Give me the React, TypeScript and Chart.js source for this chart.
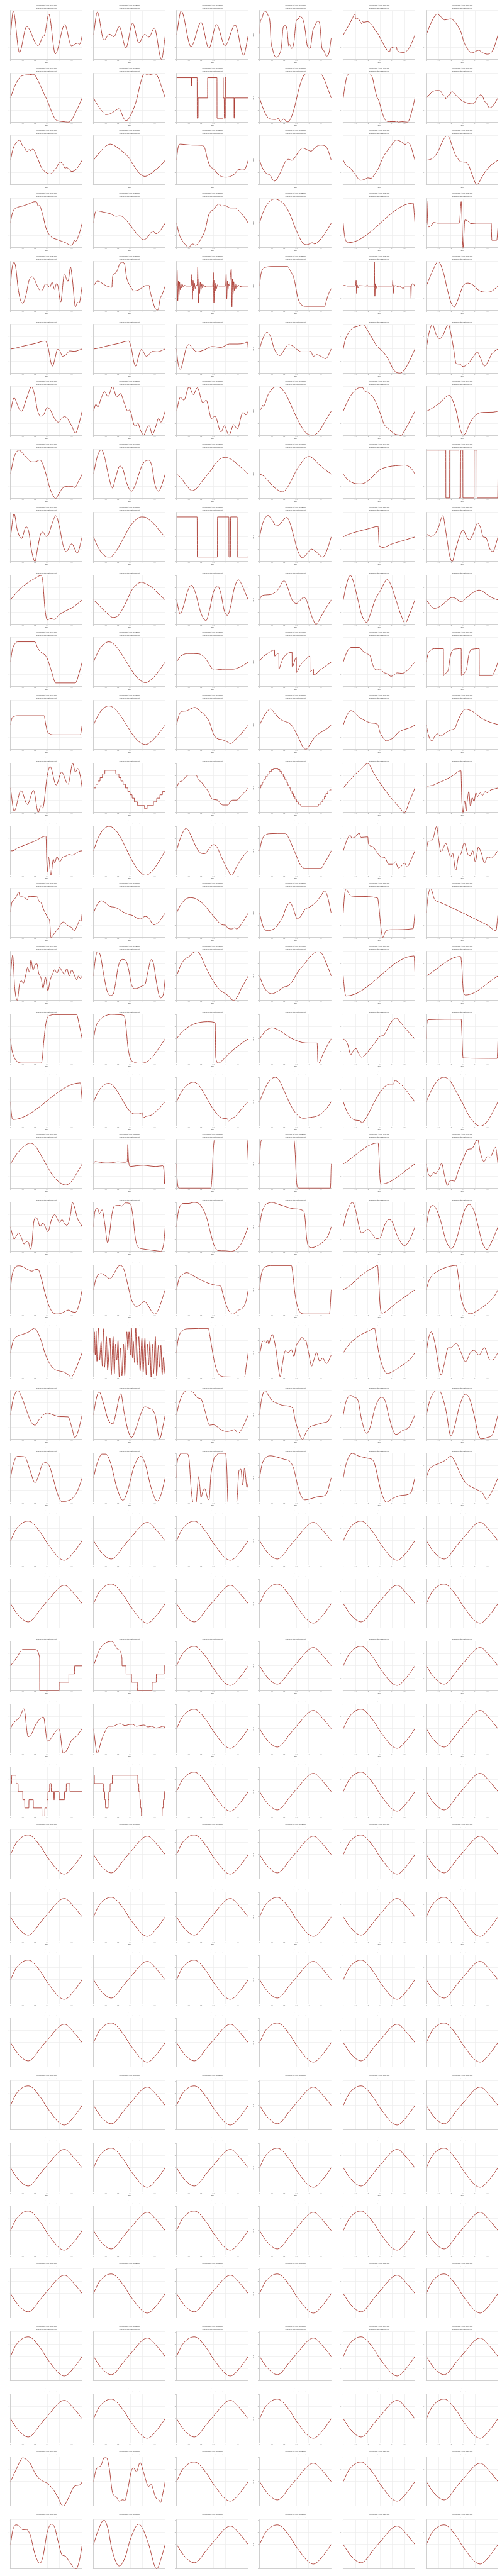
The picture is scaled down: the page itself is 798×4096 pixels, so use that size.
import { useEffect, useRef } from "react";
import { Chart, registerables } from "chart.js";

Chart.register(...registerables);

const TIME_TICKS = [0, 0.1, 0.2, 0.3, 0.4, 0.5];
const VALUE_TICKS = [-1, -0.5, 0, 0.5, 1];
const TIME_MAX = 0.586;
const SOURCE = "Graphs by http://datanoise.net";

// Each wave: flat list of (time, value) pairs.
const W0001 = [0,0, 0.023,0.99, 0.073,-0.71, 0.132,0.35, 0.225,-0.43, 0.265,-0.06, 0.278,0.0, 0.313,0.86, 0.366,-0.77, 0.443,0.43, 0.497,-0.44, 0.548,-0.33, 0.565,-0.37, 0.585,-0.04];
const W0002 = [0,0, 0.031,0.94, 0.085,-0.21, 0.13,0.04, 0.166,-0.07, 0.21,0.35, 0.264,-0.52, 0.319,0.49, 0.37,-0.32, 0.417,0.03, 0.453,-0.08, 0.496,0.29, 0.555,-1.0, 0.585,-0.04];
const W0003 = [0,0, 0.038,0.99, 0.118,-0.47, 0.2,0.52, 0.264,-0.54, 0.326,0.43, 0.396,-0.43, 0.478,0.42, 0.547,-0.82, 0.585,-0.02];
const W0004 = [0,0.06, 0.005,0.5, 0.016,0.65, 0.042,0.99, 0.068,0.82, 0.086,0.45, 0.093,-0.25, 0.105,-0.55, 0.12,-0.82, 0.138,-0.9, 0.165,-0.75, 0.178,-0.5, 0.193,0.32, 0.21,0.39, 0.225,0.2, 0.238,-0.45, 0.247,-0.38, 0.262,-0.55, 0.28,-0.3, 0.3,0.6, 0.31,0.63, 0.331,0.77, 0.362,0.5, 0.372,0.2, 0.39,-0.45, 0.412,-0.54, 0.435,0.2, 0.448,0.35, 0.475,0.57, 0.49,0.48, 0.51,-0.55, 0.522,-0.62, 0.545,-0.86, 0.565,-0.75, 0.585,-0.12];
const W0005 = [0,0, 0.078,0.72, 0.085,0.8, 0.097,0.85, 0.1,0.65, 0.107,0.7, 0.13,0.62, 0.15,0.47, 0.157,0.58, 0.163,0.52, 0.196,0.55, 0.218,0.5, 0.262,0.2, 0.29,0.0, 0.3,-0.1, 0.379,-0.68, 0.385,-0.56, 0.434,-0.48, 0.44,-0.62, 0.49,-0.71, 0.535,-0.55, 0.585,0];
const W0006 = [0,0, 0.03,0.4, 0.09,0.86, 0.118,0.76, 0.149,0.62, 0.2,0.66, 0.223,0.6, 0.26,0.35, 0.285,0.1, 0.305,-0.25, 0.335,-0.55, 0.372,-0.73, 0.427,-0.62, 0.46,-0.72, 0.497,-0.78, 0.545,-0.6, 0.585,0];
const W0007 = [0,0, 0.036,0.5, 0.08,0.86, 0.12,0.94, 0.152,0.95, 0.18,0.97, 0.2,0.93, 0.235,0.6, 0.285,0.05, 0.3,-0.1, 0.335,-0.55, 0.366,-0.87, 0.4,-0.95, 0.434,-0.97, 0.467,-0.99, 0.49,-0.95, 0.54,-0.5, 0.585,0];
const W0008 = [0,0, 0.035,-0.3, 0.08,-0.6, 0.1,-0.68, 0.134,-0.65, 0.178,-0.52, 0.205,-0.44, 0.218,-0.5, 0.245,-0.82, 0.267,-0.93, 0.295,-0.78, 0.35,-0.1, 0.378,0.5, 0.405,0.95, 0.417,0.99, 0.45,0.94, 0.494,0.99, 0.521,0.9, 0.566,0.3, 0.585,0];
const W0009 = [0,0.83, 0.122,0.83, 0.1222,0.5, 0.1225,0.83, 0.168,0.83, 0.1685,-0.83, 0.176,-0.83, 0.1765,0, 0.253,0, 0.2535,0.83, 0.33,0.83, 0.3305,-0.83, 0.379,-0.83, 0.3795,0.83, 0.381,0.83, 0.3815,0, 0.389,0, 0.3895,-0.83, 0.398,-0.83, 0.3985,0.83, 0.403,0.83, 0.4035,0, 0.469,0, 0.4695,-0.83, 0.471,-0.83, 0.4715,0, 0.585,0];
const W0010 = [0,0, 0.031,-0.45, 0.064,-0.78, 0.097,-0.87, 0.13,-0.88, 0.152,-0.84, 0.171,-0.97, 0.196,-0.86, 0.226,-0.98, 0.25,-0.88, 0.284,-0.4, 0.303,0, 0.328,0.5, 0.36,0.92, 0.382,0.99, 0.492,0.99, 0.514,0.9, 0.564,0.28, 0.585,0];
const W0011 = [0,0, 0.014,0.5, 0.036,0.95, 0.058,0.99, 0.207,0.99, 0.235,0.88, 0.257,0.4, 0.274,0.05, 0.29,-0.1, 0.318,-0.6, 0.346,-0.92, 0.379,-0.97, 0.423,-0.97, 0.432,-0.95, 0.45,-0.99, 0.478,-0.97, 0.522,-0.99, 0.533,-0.95, 0.562,-0.5, 0.585,0];
const W0012 = [0,0, 0.052,0.26, 0.09,0.31, 0.112,0.3, 0.14,0.1, 0.151,0.08, 0.163,-0.05, 0.178,0.1, 0.19,0.13, 0.209,0.26, 0.244,0.1, 0.289,-0.1, 0.344,-0.22, 0.378,-0.24, 0.4,-0.15, 0.414,0, 0.424,0.02, 0.442,0.13, 0.461,0.05, 0.477,-0.15, 0.486,-0.17, 0.516,-0.4, 0.538,-0.35, 0.585,0];
const W0013 = [0,0, 0.023,0.5, 0.06,0.78, 0.075,0.82, 0.1,0.58, 0.112,0.53, 0.135,0.35, 0.152,0.44, 0.162,0.39, 0.183,0.46, 0.22,0.1, 0.253,-0.3, 0.29,-0.5, 0.322,-0.56, 0.36,-0.4, 0.375,-0.3, 0.405,-0.07, 0.43,-0.18, 0.445,-0.33, 0.458,-0.3, 0.5,-0.46, 0.54,-0.35, 0.585,0];
const W0014 = [0,0, 0.03,0.2, 0.072,0.45, 0.1,0.58, 0.137,0.66, 0.165,0.62, 0.2,0.5, 0.25,0.3, 0.29,0.1, 0.32,-0.15, 0.36,-0.45, 0.39,-0.6, 0.42,-0.66, 0.45,-0.6, 0.5,-0.42, 0.55,-0.2, 0.585,0];
const W0015 = [0,0, 0.012,0.5, 0.03,0.66, 0.06,0.65, 0.13,0.62, 0.21,0.61, 0.23,0.5, 0.255,0.0, 0.275,-0.25, 0.3,-0.35, 0.335,-0.55, 0.36,-0.65, 0.4,-0.69, 0.44,-0.66, 0.48,-0.53, 0.505,-0.37, 0.53,-0.4, 0.555,-0.38, 0.585,0];
const W0016 = [0,0, 0.022,-0.3, 0.05,-0.52, 0.088,-0.62, 0.105,-0.78, 0.12,-0.85, 0.14,-0.78, 0.17,-0.5, 0.218,0.0, 0.24,0.04, 0.262,0.0, 0.283,0.08, 0.32,0.36, 0.35,0.5, 0.388,0.43, 0.42,0.37, 0.453,0.52, 0.492,0.62, 0.53,0.6, 0.555,0.45, 0.585,0];
const W0017 = [0,0, 0.023,-0.2, 0.063,-0.35, 0.1,-0.6, 0.14,-0.82, 0.175,-0.78, 0.2,-0.72, 0.225,-0.74, 0.26,-0.55, 0.29,-0.3, 0.31,-0.05, 0.34,0.25, 0.38,0.52, 0.433,0.83, 0.48,0.74, 0.505,0.65, 0.525,0.72, 0.545,0.65, 0.585,0];
const W0018 = [0,0, 0.04,0.05, 0.07,0.17, 0.1,0.4, 0.13,0.75, 0.155,0.95, 0.172,1.0, 0.19,0.9, 0.21,0.6, 0.235,0.25, 0.26,0.05, 0.28,-0.06, 0.32,-0.08, 0.345,-0.2, 0.375,-0.6, 0.41,-0.98, 0.43,-0.92, 0.45,-0.72, 0.5,-0.35, 0.54,-0.15, 0.585,0];
const W0019 = [0,0, 0.01,0.3, 0.025,0.52, 0.06,0.65, 0.1,0.7, 0.15,0.79, 0.2,0.88, 0.215,0.86, 0.225,0.7, 0.235,0.72, 0.26,0.4, 0.29,-0.2, 0.33,-0.55, 0.38,-0.67, 0.45,-0.8, 0.49,-0.9, 0.51,-0.85, 0.52,-0.7, 0.53,-0.75, 0.56,-0.45, 0.585,0];
const W0020 = [0,0, 0.015,0.45, 0.03,0.5, 0.08,0.45, 0.14,0.38, 0.185,0.28, 0.21,0.3, 0.235,0.27, 0.27,0.1, 0.31,-0.15, 0.35,-0.42, 0.385,-0.6, 0.41,-0.68, 0.44,-0.58, 0.47,-0.38, 0.485,-0.33, 0.51,-0.43, 0.54,-0.33, 0.585,0];
const W0021 = [0,0, 0.025,-0.5, 0.06,-0.8, 0.1,-0.98, 0.13,-0.85, 0.155,-0.9, 0.21,-0.55, 0.235,-0.25, 0.26,0.3, 0.28,0.48, 0.3,0.55, 0.345,0.78, 0.37,0.7, 0.395,0.72, 0.42,0.66, 0.44,0.62, 0.48,0.62, 0.52,0.45, 0.56,0.2, 0.585,0];
const W0022 = [0,0, 0.025,0.4, 0.075,0.85, 0.127,0.99, 0.16,0.93, 0.195,0.8, 0.24,0.45, 0.3,-0.3, 0.35,-0.8, 0.385,-0.88, 0.41,-0.84, 0.43,-0.8, 0.45,-0.85, 0.49,-0.7, 0.53,-0.45, 0.585,0];
const W0023 = [0,0, 0.01,-0.5, 0.025,-0.75, 0.04,-0.8, 0.57,0.82, 0.585,0];
const W0024 = [0,0, 0.005,0.9, 0.012,0.0, 0.022,-0.15, 0.04,-0.1, 0.06,0.03, 0.09,0.0, 0.27,0.0, 0.285,0.88, 0.3,-1.0, 0.315,0.13, 0.335,0.1, 0.365,-0.02, 0.41,0.0, 0.53,0.0, 0.535,-0.7, 0.575,-0.7, 0.585,-0.15];
const W0025 = [0,0, 0.012,0.7, 0.03,0.97, 0.045,0.7, 0.06,0.0, 0.08,-0.55, 0.1,-0.7, 0.125,-0.4, 0.15,0.2, 0.17,0.38, 0.19,0.32, 0.21,0.1, 0.235,-0.15, 0.248,-0.2, 0.265,-0.13, 0.285,0.08, 0.3,0.06, 0.32,-0.05, 0.34,0.15, 0.36,-0.14, 0.375,0.1, 0.385,0.05, 0.41,-0.65, 0.44,0.5, 0.46,0.25, 0.47,0.2, 0.49,0.78, 0.505,0.3, 0.53,-0.85, 0.548,-0.67, 0.56,-0.7, 0.585,0];
const W0026 = [0,0, 0.032,0.2, 0.06,0.15, 0.1,0.02, 0.15,-0.05, 0.155,0.35, 0.165,0.47, 0.19,0.6, 0.215,0.92, 0.235,0.97, 0.252,0.92, 0.27,0.35, 0.3,0.0, 0.33,-0.2, 0.37,-0.15, 0.4,-0.05, 0.43,0.02, 0.455,0.02, 0.458,-0.1, 0.48,-0.55, 0.5,-0.88, 0.525,-0.98, 0.545,-0.5, 0.56,-0.35, 0.585,0];
const W0027 = [0,0, 0.005,0.65, 0.01,-0.6, 0.015,0.2, 0.02,-0.38, 0.025,0.15, 0.03,-0.15, 0.036,0.1, 0.042,-0.08, 0.048,0.06, 0.055,-0.04, 0.065,0.03, 0.08,0, 0.12,0, 0.125,0.47, 0.13,-0.55, 0.135,0.22, 0.14,-0.2, 0.146,0.12, 0.152,-0.1, 0.16,0.05, 0.168,0, 0.173,0.77, 0.178,-0.7, 0.183,0.3, 0.188,-0.3, 0.194,0.15, 0.2,-0.15, 0.206,0.1, 0.212,-0.08, 0.22,0.05, 0.23,-0.03, 0.245,0, 0.295,0, 0.3,0.55, 0.305,-0.68, 0.31,0.25, 0.315,-0.2, 0.32,0.12, 0.326,-0.1, 0.333,0.05, 0.345,0, 0.4,0, 0.405,0.5, 0.41,-0.52, 0.415,0.2, 0.42,-0.15, 0.425,0.08, 0.43,0, 0.447,0.7, 0.452,-0.85, 0.457,0.3, 0.462,-0.3, 0.467,0.18, 0.472,-0.18, 0.478,0.1, 0.484,-0.1, 0.49,0.06, 0.497,-0.05, 0.505,0.03, 0.52,-0.02, 0.54,0, 0.585,0];
const W0028 = [0,0, 0.01,0.45, 0.028,0.7, 0.06,0.78, 0.1,0.8, 0.23,0.8, 0.245,0.68, 0.26,0.55, 0.275,0.4, 0.29,0.1, 0.31,-0.45, 0.33,-0.7, 0.35,-0.8, 0.38,-0.83, 0.53,-0.83, 0.545,-0.6, 0.565,-0.3, 0.585,-0.1];
const W0029 = [0,0.02, 0.01,0.03, 0.03,0.0, 0.1,0.0, 0.105,0.22, 0.109,-0.3, 0.114,0.05, 0.12,-0.08, 0.13,0.02, 0.19,0.0, 0.195,0.05, 0.2,0.0, 0.25,0.0, 0.254,1.0, 0.258,-0.42, 0.262,0.1, 0.268,-0.1, 0.275,0.02, 0.285,0.0, 0.4,0.0, 0.404,0.22, 0.408,-0.3, 0.413,0.05, 0.42,0.0, 0.43,0.03, 0.44,-0.02, 0.46,0.0, 0.49,-0.1, 0.5,0.0, 0.55,0.0, 0.553,-0.5, 0.556,0.0, 0.57,0.1, 0.585,-0.03];
const W0030 = [0,0, 0.05,0.6, 0.097,1.0, 0.14,0.55, 0.17,-0.1, 0.2,-0.65, 0.228,-0.85, 0.255,-0.6, 0.3,0.0, 0.34,0.12, 0.38,0.05, 0.43,-0.18, 0.49,-0.25, 0.53,-0.22, 0.585,0];
const W0031 = [0,0, 0.02,0.01, 0.1,0.11, 0.2,0.22, 0.28,0.32, 0.29,0.3, 0.31,0.0, 0.33,-0.55, 0.345,-0.7, 0.36,-0.45, 0.385,-0.02, 0.4,-0.05, 0.425,-0.3, 0.45,-0.25, 0.485,-0.08, 0.52,-0.1, 0.585,0];
const W0032 = [0,0, 0.02,0.01, 0.1,0.11, 0.2,0.22, 0.285,0.32, 0.292,0.3, 0.31,0.0, 0.33,-0.55, 0.345,-0.7, 0.36,-0.45, 0.39,-0.02, 0.4,-0.05, 0.43,-0.3, 0.455,-0.22, 0.48,-0.1, 0.52,-0.12, 0.585,0];
const W0033 = [0,0, 0.01,-0.5, 0.028,-0.83, 0.04,-0.75, 0.06,-0.35, 0.08,0.05, 0.1,0.18, 0.12,0.1, 0.15,-0.08, 0.17,-0.12, 0.23,-0.03, 0.29,0.1, 0.33,0.08, 0.36,0.06, 0.43,0.2, 0.5,0.2, 0.55,0.23, 0.578,0.28, 0.585,0.01];
const W0034 = [0,0, 0.025,0.4, 0.06,0.68, 0.09,0.5, 0.12,0.0, 0.165,-0.27, 0.2,-0.05, 0.235,0.17, 0.26,0.15, 0.3,0.0, 0.34,-0.12, 0.4,-0.12, 0.415,-0.1, 0.44,-0.3, 0.465,-0.23, 0.5,-0.3, 0.54,-0.4, 0.585,0];
const W0035 = [0,0, 0.015,0.35, 0.036,0.6, 0.075,0.85, 0.115,0.92, 0.155,0.99, 0.175,0.95, 0.205,0.7, 0.235,0.45, 0.27,0.15, 0.3,0.0, 0.33,-0.15, 0.37,-0.45, 0.41,-0.85, 0.43,-0.95, 0.465,-0.99, 0.5,-0.85, 0.54,-0.5, 0.585,0];
const W0036 = [0,0, 0.02,0.6, 0.05,1.0, 0.08,0.6, 0.11,0.42, 0.135,0.55, 0.18,1.0, 0.2,0.65, 0.22,0.1, 0.245,-0.6, 0.275,-0.62, 0.3,-0.72, 0.35,-0.55, 0.39,-0.28, 0.415,-0.12, 0.445,-0.4, 0.475,-0.7, 0.5,-0.55, 0.535,-0.2, 0.585,0];
const W0037 = [0,0, 0.03,0.55, 0.05,0.35, 0.075,0.05, 0.09,0.0, 0.13,0.5, 0.172,1.0, 0.2,0.6, 0.22,0.05, 0.245,-0.2, 0.27,-0.15, 0.3,0.15, 0.325,0.05, 0.36,-0.3, 0.39,-0.45, 0.41,-0.35, 0.44,-0.22, 0.46,-0.28, 0.5,-0.6, 0.53,-0.9, 0.56,-0.5, 0.585,0];
const W0038 = [0,0, 0.02,0.28, 0.035,0.17, 0.06,0.5, 0.09,0.8, 0.118,0.6, 0.155,1.0, 0.19,0.58, 0.22,0.72, 0.25,0.35, 0.28,0.0, 0.295,0.05, 0.33,-0.55, 0.345,-0.6, 0.36,-0.48, 0.385,-0.8, 0.41,-0.97, 0.44,-0.65, 0.455,-0.6, 0.48,-0.95, 0.51,-0.6, 0.53,-0.3, 0.55,-0.45, 0.585,0];
const W0039 = [0,0, 0.031,0.57, 0.06,0.45, 0.102,1.0, 0.137,0.68, 0.17,0.96, 0.214,0.35, 0.242,0.45, 0.286,-0.3, 0.313,-0.2, 0.363,-0.85, 0.39,-0.6, 0.428,-0.98, 0.467,-0.55, 0.495,-0.72, 0.542,-0.05, 0.566,-0.15, 0.585,0];
const W0040 = [0,0, 0.018,0.15, 0.025,0.25, 0.031,0.2, 0.07,0.68, 0.108,0.94, 0.141,1.0, 0.185,0.9, 0.234,0.5, 0.278,0.0, 0.327,-0.5, 0.382,-0.9, 0.437,-0.98, 0.481,-0.85, 0.525,-0.5, 0.585,0];
const W0041 = [0,0, 0.044,0.5, 0.09,0.82, 0.115,0.93, 0.14,0.97, 0.16,0.96, 0.17,0.85, 0.185,0.8, 0.206,0.76, 0.258,0.45, 0.31,-0.2, 0.33,-0.5, 0.376,-0.75, 0.428,-0.95, 0.455,-0.97, 0.47,-1.0, 0.5,-0.8, 0.533,-0.5, 0.585,0];
const W0042 = [0,0, 0.02,0.04, 0.1,0.3, 0.19,0.65, 0.2,0.6, 0.215,0.45, 0.245,0.0, 0.27,-0.6, 0.285,-0.85, 0.3,-0.98, 0.32,-0.9, 0.35,-0.55, 0.38,-0.3, 0.415,-0.12, 0.46,-0.05, 0.545,-0.04, 0.585,0];
const W0043 = [0,0, 0.03,0.7, 0.07,0.98, 0.1,0.85, 0.135,0.65, 0.175,0.5, 0.2,0.5, 0.24,0.58, 0.26,0.45, 0.29,0.0, 0.32,-0.55, 0.345,-0.85, 0.37,-1.0, 0.395,-0.8, 0.43,-0.55, 0.47,-0.5, 0.5,-0.5, 0.525,-0.55, 0.55,-0.35, 0.585,0];
const W0044 = [0,0, 0.03,0.7, 0.064,1.0, 0.09,0.7, 0.12,0.0, 0.155,-0.57, 0.18,-0.15, 0.215,0.33, 0.24,0.2, 0.27,-0.35, 0.31,-0.7, 0.34,-0.45, 0.37,0.0, 0.4,0.4, 0.45,0.57, 0.475,0.35, 0.5,-0.4, 0.532,-0.7, 0.55,-0.55, 0.585,0];
const W0045 = [0,0, 0.03,-0.12, 0.06,-0.32, 0.09,-0.52, 0.125,-0.68, 0.16,-0.6, 0.2,-0.35, 0.24,-0.1, 0.28,0.15, 0.32,0.45, 0.36,0.63, 0.4,0.68, 0.44,0.62, 0.48,0.48, 0.52,0.3, 0.585,0];
const W0046 = [0,0, 0.025,-0.05, 0.06,-0.22, 0.1,-0.45, 0.14,-0.62, 0.187,-0.73, 0.22,-0.6, 0.26,-0.25, 0.3,0.15, 0.34,0.45, 0.375,0.66, 0.405,0.72, 0.44,0.62, 0.48,0.42, 0.53,0.2, 0.585,0];
const W0047 = [0,0, 0.036,-0.23, 0.07,-0.34, 0.1,-0.39, 0.141,-0.4, 0.18,-0.35, 0.22,-0.2, 0.26,0.0, 0.3,0.18, 0.35,0.28, 0.4,0.33, 0.45,0.35, 0.5,0.37, 0.53,0.33, 0.56,0.2, 0.585,0];
const W0048 = [0,0.98, 0.159,0.98, 0.16,-0.98, 0.19,-0.98, 0.191,0.98, 0.266,0.98, 0.267,-0.98, 0.28,-0.98, 0.281,0.98, 0.298,0.98, 0.299,-0.98, 0.39,-0.98, 0.391,0.98, 0.414,0.98, 0.415,-0.98, 0.582,-0.98, 0.585,0];
const W0049 = [0,0, 0.03,0.95, 0.055,0.3, 0.09,-0.06, 0.128,0.42, 0.15,0.2, 0.17,-0.5, 0.2,-1.0, 0.22,-0.5, 0.245,0.1, 0.265,0.2, 0.29,0.02, 0.31,0.1, 0.34,0.55, 0.37,0.87, 0.4,0.4, 0.43,-0.35, 0.455,-0.6, 0.5,-0.28, 0.545,-0.65, 0.585,0];
const W0050 = [0,0, 0.04,-0.45, 0.08,-0.72, 0.115,-0.82, 0.14,-0.82, 0.17,-0.68, 0.2,-0.45, 0.25,0.0, 0.3,0.45, 0.35,0.72, 0.39,0.82, 0.42,0.81, 0.46,0.68, 0.5,0.5, 0.54,0.25, 0.585,0];
const W0051 = [0,0.82, 0.168,0.82, 0.169,-0.82, 0.333,-0.82, 0.334,0.82, 0.427,0.82, 0.428,-0.82, 0.44,-0.82, 0.441,0.82, 0.495,0.82, 0.496,-0.82, 0.58,-0.82, 0.585,-0.78];
const W0052 = [0,0, 0.025,0.55, 0.07,0.88, 0.1,0.7, 0.14,0.45, 0.17,0.55, 0.22,0.8, 0.25,0.55, 0.28,0.0, 0.31,-0.55, 0.35,-0.85, 0.375,-0.75, 0.425,-0.5, 0.46,-0.6, 0.515,-0.82, 0.545,-0.6, 0.585,0];
const W0053 = [0,0, 0.02,0.06, 0.1,0.2, 0.2,0.33, 0.284,0.43, 0.293,-0.35, 0.3,-0.38, 0.32,-0.43, 0.4,-0.28, 0.5,-0.13, 0.585,0];
const W0054 = [0,0, 0.01,0.1, 0.035,0.02, 0.07,0.12, 0.1,0.4, 0.135,0.87, 0.16,0.2, 0.19,-0.75, 0.212,-1.0, 0.235,-0.6, 0.27,0.0, 0.3,0.28, 0.33,0.0, 0.35,-0.12, 0.38,0.1, 0.42,0.57, 0.445,0.35, 0.465,0.0, 0.485,-0.02, 0.52,-0.5, 0.545,-0.6, 0.565,-0.35, 0.585,0];
const W0055 = [0,0, 0.05,0.3, 0.1,0.55, 0.15,0.73, 0.2,0.88, 0.25,1.0, 0.265,0.7, 0.28,-0.3, 0.3,-0.82, 0.33,-0.76, 0.357,-0.8, 0.4,-0.6, 0.45,-0.45, 0.5,-0.33, 0.55,-0.15, 0.585,0];
const W0056 = [0,0, 0.05,-0.25, 0.1,-0.5, 0.16,-0.72, 0.2,-0.65, 0.24,-0.35, 0.27,-0.05, 0.31,0.38, 0.35,0.62, 0.39,0.72, 0.43,0.65, 0.48,0.5, 0.53,0.25, 0.585,0];
const W0057 = [0,0, 0.03,-0.58, 0.06,-0.2, 0.09,0.35, 0.12,0.6, 0.15,0.35, 0.2,-0.55, 0.24,-0.85, 0.27,-0.4, 0.3,0.3, 0.333,0.57, 0.36,0.3, 0.39,-0.45, 0.415,-0.63, 0.44,-0.3, 0.47,0.45, 0.505,0.82, 0.53,0.65, 0.56,0.3, 0.585,0];
const W0058 = [0,0, 0.015,0.15, 0.05,0.2, 0.1,0.23, 0.15,0.42, 0.2,0.78, 0.23,0.5, 0.26,0.05, 0.3,-0.15, 0.33,-0.02, 0.36,0.1, 0.38,0.02, 0.41,-0.45, 0.44,-0.85, 0.46,-1.0, 0.5,-0.7, 0.54,-0.35, 0.585,0];
const W0059 = [0,0, 0.025,0.6, 0.058,1.0, 0.085,0.7, 0.12,0.0, 0.15,-0.6, 0.19,-0.92, 0.22,-0.6, 0.26,0.0, 0.3,0.35, 0.36,0.83, 0.39,0.6, 0.43,0.0, 0.47,-0.6, 0.505,-0.95, 0.54,-0.6, 0.585,0];
const W0060 = [0,0, 0.03,-0.2, 0.065,-0.35, 0.1,-0.3, 0.14,-0.17, 0.175,0.0, 0.21,0.1, 0.24,0.06, 0.27,-0.05, 0.285,-0.08, 0.32,0.05, 0.36,0.22, 0.4,0.35, 0.43,0.4, 0.46,0.35, 0.5,0.2, 0.54,0.08, 0.585,0];
const W0061 = [0,0, 0.015,0.5, 0.045,0.8, 0.06,0.83, 0.2,0.83, 0.22,0.6, 0.245,0.42, 0.28,0.3, 0.3,0.15, 0.33,-0.3, 0.37,-0.85, 0.53,-0.85, 0.56,-0.45, 0.585,0];
const W0062 = [0,0, 0.04,0.45, 0.08,0.72, 0.125,0.83, 0.17,0.72, 0.22,0.4, 0.27,0.0, 0.32,-0.4, 0.37,-0.7, 0.425,-0.84, 0.47,-0.72, 0.52,-0.45, 0.585,0];
const W0063 = [0,0, 0.03,0.22, 0.06,0.32, 0.1,0.35, 0.18,0.34, 0.21,0.27, 0.25,0.05, 0.28,-0.2, 0.31,-0.33, 0.35,-0.3, 0.4,-0.29, 0.46,-0.29, 0.51,-0.22, 0.55,-0.12, 0.585,0];
const W0064 = [0,0.05, 0.03,0.22, 0.07,0.37, 0.122,0.5, 0.123,0.25, 0.157,0.37, 0.158,-0.28, 0.175,-0.05, 0.2,0.22, 0.265,0.4, 0.266,-0.2, 0.3,0.2, 0.301,-0.42, 0.33,-0.15, 0.38,0.12, 0.41,0.25, 0.411,-0.4, 0.44,-0.3, 0.441,-0.52, 0.5,-0.3, 0.585,0];
const W0065 = [0,0, 0.02,0.3, 0.04,0.5, 0.06,0.6, 0.13,0.6, 0.16,0.45, 0.2,0.33, 0.22,0.25, 0.24,-0.1, 0.26,-0.3, 0.28,-0.32, 0.3,-0.28, 0.33,-0.42, 0.36,-0.48, 0.39,-0.58, 0.42,-0.5, 0.44,-0.44, 0.48,-0.46, 0.52,-0.35, 0.585,0];
const W0066 = [0,0, 0.015,0.35, 0.04,0.5, 0.065,0.55, 0.14,0.55, 0.141,-0.55, 0.16,-0.45, 0.18,-0.3, 0.195,0.2, 0.21,0.45, 0.23,0.53, 0.285,0.55, 0.286,-0.55, 0.31,-0.45, 0.33,-0.25, 0.345,0.25, 0.36,0.48, 0.38,0.53, 0.432,0.55, 0.433,-0.55, 0.535,-0.55, 0.56,-0.35, 0.585,0];
const W0067 = [0,0, 0.01,0.25, 0.03,0.35, 0.06,0.38, 0.275,0.38, 0.285,0.1, 0.3,-0.25, 0.32,-0.36, 0.35,-0.4, 0.57,-0.4, 0.585,0];
const W0068 = [0,0, 0.04,0.42, 0.08,0.68, 0.125,0.78, 0.17,0.68, 0.22,0.38, 0.27,0.0, 0.32,-0.4, 0.37,-0.68, 0.425,-0.8, 0.47,-0.68, 0.52,-0.42, 0.585,0];
const W0069 = [0,0, 0.02,0.4, 0.045,0.56, 0.075,0.57, 0.11,0.65, 0.15,0.72, 0.185,0.6, 0.24,0.35, 0.27,0.1, 0.3,-0.35, 0.33,-0.55, 0.37,-0.6, 0.41,-0.68, 0.44,-0.76, 0.48,-0.6, 0.53,-0.35, 0.585,0];
const W0070 = [0,0, 0.03,0.3, 0.06,0.55, 0.09,0.66, 0.12,0.5, 0.15,0.33, 0.18,0.2, 0.22,0.12, 0.25,0.05, 0.28,-0.15, 0.32,-0.55, 0.36,-0.95, 0.38,-0.99, 0.41,-0.8, 0.45,-0.5, 0.5,-0.3, 0.55,-0.15, 0.585,0];
const W0071 = [0,0, 0.03,0.4, 0.063,0.59, 0.1,0.47, 0.13,0.32, 0.17,0.2, 0.23,0.08, 0.28,0.03, 0.3,-0.3, 0.33,-0.55, 0.35,-0.65, 0.38,-0.6, 0.41,-0.52, 0.45,-0.3, 0.5,-0.18, 0.55,-0.1, 0.585,0];
const W0072 = [0,0, 0.02,-0.45, 0.045,-0.65, 0.07,-0.45, 0.09,-0.36, 0.115,-0.45, 0.15,-0.35, 0.2,-0.2, 0.23,-0.15, 0.26,0.2, 0.29,0.5, 0.32,0.65, 0.36,0.6, 0.4,0.48, 0.45,0.28, 0.5,0.15, 0.585,0.02];
const W0073 = [0,0, 0.03,-0.95, 0.086,-0.1, 0.138,-0.68, 0.188,-0.1, 0.227,-1.0, 0.248,-0.72, 0.263,-0.82, 0.3,0.5, 0.323,0.88, 0.373,0.12, 0.417,0.65, 0.47,0.15, 0.508,1.0, 0.53,0.65, 0.55,0.8, 0.573,0.4, 0.585,0];
const W0074 = [0,0, 0.019,0, 0.02,0.15, 0.035,0.15, 0.036,0.28, 0.053,0.28, 0.054,0.42, 0.072,0.42, 0.073,0.57, 0.092,0.57, 0.093,0.72, 0.181,0.72, 0.182,0.57, 0.207,0.57, 0.208,0.42, 0.223,0.42, 0.224,0.28, 0.241,0.28, 0.242,0.15, 0.26,0.15, 0.261,0, 0.28,0, 0.281,-0.15, 0.298,-0.15, 0.299,-0.28, 0.315,-0.28, 0.316,-0.42, 0.333,-0.42, 0.334,-0.57, 0.359,-0.57, 0.36,-0.72, 0.416,-0.72, 0.417,-0.85, 0.437,-0.85, 0.438,-0.72, 0.489,-0.72, 0.49,-0.57, 0.515,-0.57, 0.516,-0.42, 0.541,-0.42, 0.542,-0.28, 0.562,-0.28, 0.563,-0.15, 0.585,-0.15];
const W0075 = [0,0, 0.02,0.22, 0.05,0.3, 0.08,0.48, 0.1,0.52, 0.16,0.52, 0.18,0.32, 0.2,0.25, 0.23,0.05, 0.26,-0.15, 0.29,-0.45, 0.335,-0.5, 0.36,-0.65, 0.38,-0.7, 0.42,-0.7, 0.44,-0.55, 0.46,-0.5, 0.49,-0.5, 0.53,-0.3, 0.56,-0.15, 0.585,0];
const W0076 = [0,0, 0.01,0, 0.011,0.12, 0.022,0.12, 0.023,0.23, 0.034,0.23, 0.035,0.35, 0.048,0.35, 0.049,0.46, 0.062,0.46, 0.063,0.57, 0.078,0.57, 0.079,0.67, 0.096,0.67, 0.097,0.75, 0.112,0.75, 0.113,0.8, 0.15,0.8, 0.151,0.75, 0.165,0.75, 0.166,0.67, 0.18,0.67, 0.181,0.57, 0.193,0.57, 0.194,0.46, 0.205,0.46, 0.206,0.35, 0.216,0.35, 0.217,0.23, 0.228,0.23, 0.229,0.12, 0.24,0.12, 0.241,0, 0.252,0, 0.253,-0.12, 0.264,-0.12, 0.265,-0.23, 0.276,-0.23, 0.277,-0.35, 0.288,-0.35, 0.289,-0.46, 0.301,-0.46, 0.302,-0.57, 0.316,-0.57, 0.317,-0.67, 0.335,-0.67, 0.336,-0.75, 0.48,-0.75, 0.481,-0.67, 0.5,-0.67, 0.501,-0.57, 0.515,-0.57, 0.516,-0.46, 0.528,-0.46, 0.529,-0.35, 0.541,-0.35, 0.542,-0.23, 0.556,-0.23, 0.557,-0.12, 0.572,-0.12, 0.573,-0.08, 0.585,-0.08];
const W0077 = [0,0, 0.05,0.3, 0.1,0.57, 0.15,0.8, 0.2,1.0, 0.25,0.6, 0.3,0.2, 0.35,-0.15, 0.4,-0.47, 0.45,-0.75, 0.5,-1.0, 0.54,-0.55, 0.585,0];
const W0078 = [0,0, 0.02,0.08, 0.05,0.1, 0.08,0.17, 0.12,0.25, 0.2,0.45, 0.283,0.7, 0.29,-0.5, 0.3,-1.0, 0.31,-0.6, 0.315,-0.55, 0.325,-0.95, 0.335,-0.5, 0.347,-0.15, 0.36,-0.75, 0.375,-0.4, 0.39,-0.55, 0.405,-0.2, 0.42,-0.35, 0.44,-0.2, 0.46,-0.3, 0.48,-0.15, 0.5,-0.2, 0.52,-0.1, 0.55,-0.05, 0.585,0];
const W0079 = [0,0, 0.02,0.0, 0.05,0.1, 0.1,0.2, 0.2,0.4, 0.29,0.6, 0.295,-0.3, 0.3,-0.85, 0.31,-0.25, 0.33,-1.0, 0.35,-0.35, 0.36,-0.5, 0.38,-0.25, 0.4,-0.45, 0.43,-0.25, 0.45,-0.22, 0.48,-0.15, 0.5,-0.18, 0.53,-0.12, 0.56,-0.02, 0.585,0];
const W0080 = [0,0, 0.04,0.55, 0.08,0.87, 0.125,1.0, 0.17,0.9, 0.22,0.55, 0.27,0.05, 0.32,-0.45, 0.37,-0.82, 0.425,-1.0, 0.47,-0.88, 0.52,-0.55, 0.585,0];
const W0081 = [0,0, 0.03,0.5, 0.08,0.92, 0.12,0.6, 0.16,0.15, 0.2,-0.1, 0.23,-0.12, 0.26,0.05, 0.3,0.25, 0.33,0.15, 0.37,-0.3, 0.41,-0.7, 0.45,-1.0, 0.49,-0.65, 0.54,-0.25, 0.585,0];
const W0082 = [0,0, 0.02,0.45, 0.05,0.65, 0.09,0.7, 0.21,0.71, 0.24,0.5, 0.27,0.15, 0.3,-0.2, 0.33,-0.55, 0.37,-0.72, 0.5,-0.72, 0.53,-0.5, 0.56,-0.25, 0.585,0];
const W0083 = [0,0, 0.035,0.5, 0.057,0.63, 0.07,0.52, 0.1,0.58, 0.13,0.72, 0.145,0.55, 0.2,0.57, 0.205,0.3, 0.24,0.17, 0.28,-0.1, 0.31,-0.25, 0.34,-0.28, 0.37,-0.55, 0.4,-0.55, 0.425,-0.45, 0.45,-0.7, 0.48,-0.6, 0.5,-0.5, 0.52,-0.66, 0.55,-0.4, 0.585,0];
const W0084 = [0,0, 0.015,0.38, 0.04,0.4, 0.055,0.5, 0.085,1.0, 0.1,0.5, 0.12,-0.05, 0.16,0.3, 0.185,-0.1, 0.2,-0.25, 0.215,-0.1, 0.24,-0.8, 0.265,-0.2, 0.28,-0.15, 0.31,0.32, 0.34,-0.15, 0.36,-0.2, 0.38,0.0, 0.4,-0.45, 0.425,0.15, 0.45,-0.1, 0.475,-0.5, 0.5,-0.25, 0.53,-0.3, 0.585,0];
const W0085 = [0,0.05, 0.01,0.4, 0.03,0.55, 0.05,0.7, 0.068,0.86, 0.075,0.72, 0.11,0.65, 0.14,0.55, 0.147,0.68, 0.22,0.66, 0.23,0.5, 0.25,0.42, 0.27,0.15, 0.285,0.0, 0.305,-0.2, 0.32,-0.35, 0.33,-1.0, 0.36,-0.82, 0.38,-0.7, 0.43,-0.37, 0.47,-0.52, 0.5,-0.6, 0.52,-0.72, 0.55,-0.45, 0.565,-0.3, 0.575,-0.35, 0.585,0];
const W0086 = [0,0, 0.03,0.35, 0.065,0.5, 0.1,0.4, 0.135,0.27, 0.17,0.24, 0.2,0.18, 0.24,0.05, 0.28,-0.05, 0.32,-0.1, 0.36,-0.22, 0.385,-0.24, 0.42,-0.14, 0.45,-0.2, 0.49,-0.48, 0.53,-0.38, 0.585,0];
const W0087 = [0,0, 0.03,0.3, 0.07,0.55, 0.11,0.63, 0.15,0.6, 0.2,0.45, 0.24,0.25, 0.28,0.0, 0.33,-0.3, 0.37,-0.48, 0.4,-0.5, 0.42,-0.62, 0.45,-0.65, 0.475,-0.6, 0.49,-0.65, 0.53,-0.45, 0.585,0];
const W0088 = [0,0, 0.025,-0.5, 0.05,-0.72, 0.09,-0.7, 0.13,-0.6, 0.16,-0.4, 0.19,-0.15, 0.215,0.2, 0.25,0.42, 0.27,0.25, 0.31,-0.25, 0.34,-0.1, 0.37,0.15, 0.41,0.25, 0.46,0.45, 0.5,0.7, 0.53,0.9, 0.55,0.75, 0.585,0];
const W0089 = [0,0, 0.01,0.7, 0.023,1.0, 0.04,0.85, 0.063,0.7, 0.13,0.68, 0.28,0.62, 0.29,0.3, 0.31,-0.7, 0.324,-1.0, 0.34,-0.8, 0.36,-0.7, 0.4,-0.68, 0.57,-0.64, 0.585,0];
const W0090 = [0,0, 0.015,0.7, 0.035,1.0, 0.05,0.85, 0.06,0.65, 0.08,0.5, 0.11,0.44, 0.2,0.24, 0.3,0.0, 0.4,-0.25, 0.5,-0.5, 0.568,-0.72, 0.585,-0.05];
const W0091 = [0,0, 0.018,0.85, 0.035,-0.5, 0.055,-1.0, 0.075,-0.3, 0.09,-0.2, 0.105,-0.3, 0.125,0.05, 0.14,0.35, 0.155,0.15, 0.167,0.65, 0.185,0.25, 0.2,0.45, 0.215,0.5, 0.23,0.12, 0.25,-0.1, 0.266,-0.5, 0.285,-0.05, 0.305,-0.6, 0.325,-0.15, 0.345,0.1, 0.36,0.25, 0.38,0.12, 0.4,0.35, 0.42,0.2, 0.44,0.08, 0.46,0.3, 0.48,0.0, 0.5,0.25, 0.52,0.05, 0.54,-0.15, 0.555,0.0, 0.57,-0.1, 0.585,0];
const W0092 = [0,0, 0.01,0.5, 0.032,1.0, 0.055,0.85, 0.085,0.0, 0.11,-0.6, 0.137,-0.8, 0.16,-0.75, 0.18,-0.3, 0.2,0.35, 0.235,0.68, 0.26,0.65, 0.285,0.3, 0.31,-0.35, 0.34,-0.52, 0.37,-0.48, 0.4,-0.4, 0.42,-0.35, 0.445,0.2, 0.47,0.67, 0.49,0.5, 0.515,-0.3, 0.545,-0.9, 0.57,-0.75, 0.585,-0.1];
const W0093 = [0,0, 0.04,0.5, 0.08,0.73, 0.1,0.78, 0.135,0.95, 0.165,1.0, 0.19,0.9, 0.23,0.45, 0.27,0.05, 0.31,-0.3, 0.36,-0.6, 0.4,-0.73, 0.42,-0.8, 0.465,-1.0, 0.49,-0.9, 0.53,-0.5, 0.585,0];
const W0094 = [0,0, 0.03,-0.4, 0.065,-0.65, 0.1,-0.73, 0.14,-0.65, 0.18,-0.52, 0.2,-0.45, 0.235,-0.4, 0.27,-0.2, 0.31,0.15, 0.36,0.45, 0.39,0.65, 0.43,0.88, 0.48,1.0, 0.51,0.9, 0.55,0.45, 0.585,0];
const W0095 = [0,0, 0.01,-0.55, 0.022,-0.82, 0.578,0.82, 0.585,0.1];
const W0096 = [0,0, 0.28,0.8, 0.29,0.4, 0.3,-0.5, 0.31,-0.75, 0.32,-0.78, 0.585,0];
const W0097 = [0,0, 0.01,-0.4, 0.03,-0.75, 0.06,-0.95, 0.1,-0.99, 0.25,-0.99, 0.26,-0.8, 0.27,-0.2, 0.285,0.5, 0.3,0.85, 0.33,0.97, 0.36,0.99, 0.54,0.99, 0.56,0.6, 0.585,0];
const W0098 = [0,0, 0.02,0.5, 0.06,0.82, 0.1,0.95, 0.15,1.0, 0.2,0.99, 0.25,0.95, 0.265,0.5, 0.28,-0.3, 0.3,-0.8, 0.33,-0.95, 0.38,-1.0, 0.43,-0.95, 0.48,-0.75, 0.53,-0.4, 0.585,0];
const W0099 = [0,0, 0.03,0.2, 0.06,0.35, 0.1,0.5, 0.15,0.62, 0.2,0.68, 0.25,0.7, 0.315,0.66, 0.32,-0.75, 0.34,-0.99, 0.4,-0.75, 0.45,-0.5, 0.5,-0.3, 0.55,-0.12, 0.585,0];
const W0100 = [0,0, 0.05,0.33, 0.1,0.45, 0.15,0.37, 0.2,0.22, 0.25,0.05, 0.3,-0.07, 0.35,-0.15, 0.4,-0.17, 0.47,-0.17, 0.475,-0.9, 0.48,-1.0, 0.52,-0.6, 0.56,-0.2, 0.585,0];
const W0101 = [0,0, 0.02,-0.08, 0.035,-0.2, 0.062,-0.65, 0.08,-0.5, 0.105,-0.4, 0.125,-0.6, 0.15,-0.75, 0.18,-0.65, 0.22,-0.4, 0.26,-0.15, 0.3,0.1, 0.33,0.15, 0.37,0.5, 0.41,0.8, 0.43,0.85, 0.47,0.65, 0.52,0.35, 0.585,0];
const W0102 = [0,0, 0.005,0.6, 0.015,0.78, 0.285,0.8, 0.29,0.3, 0.3,-0.78, 0.578,-0.8, 0.585,-0.02];
const W0103 = [0,0, 0.008,-0.5, 0.018,-0.73, 0.57,0.77, 0.585,0.05];
const W0104 = [0,0, 0.04,0.42, 0.08,0.67, 0.125,0.75, 0.17,0.6, 0.21,0.3, 0.25,-0.05, 0.29,-0.35, 0.33,-0.5, 0.37,-0.5, 0.4,-0.45, 0.405,-0.65, 0.43,-0.6, 0.47,-0.55, 0.52,-0.35, 0.585,0];
const W0105 = [0,0, 0.04,0.4, 0.09,0.7, 0.14,0.8, 0.18,0.68, 0.23,0.3, 0.28,-0.15, 0.33,-0.5, 0.38,-0.68, 0.415,-0.7, 0.425,-0.8, 0.44,-0.72, 0.48,-0.6, 0.53,-0.3, 0.585,0];
const W0106 = [0,0, 0.04,0.5, 0.08,0.85, 0.127,1.0, 0.16,0.88, 0.2,0.45, 0.25,-0.1, 0.3,-0.5, 0.36,-0.68, 0.4,-0.65, 0.46,-0.6, 0.5,-0.5, 0.55,-0.25, 0.585,0];
const W0107 = [0,0, 0.03,-0.4, 0.07,-0.68, 0.11,-0.76, 0.14,-0.78, 0.15,-0.87, 0.18,-0.72, 0.22,-0.35, 0.26,0.05, 0.3,0.38, 0.34,0.62, 0.38,0.72, 0.41,0.72, 0.42,0.87, 0.45,0.8, 0.5,0.55, 0.55,0.22, 0.585,0];
const W0108 = [0,0, 0.04,0.45, 0.09,0.85, 0.14,1.0, 0.19,0.88, 0.24,0.45, 0.29,0.0, 0.34,-0.5, 0.39,-0.85, 0.44,-1.0, 0.49,-0.85, 0.54,-0.45, 0.585,0];
const W0109 = [0,0, 0.05,0.4, 0.1,0.68, 0.162,0.85, 0.2,0.75, 0.25,0.35, 0.3,-0.1, 0.35,-0.5, 0.4,-0.75, 0.45,-0.86, 0.5,-0.7, 0.55,-0.3, 0.585,0];
const W0110 = [0,0, 0.012,0.1, 0.04,0.08, 0.1,0.04, 0.15,0.05, 0.2,0.09, 0.25,0.07, 0.275,0.1, 0.28,0.8, 0.285,0.2, 0.3,-0.1, 0.35,-0.07, 0.41,-0.05, 0.46,-0.08, 0.51,-0.1, 0.565,-0.07, 0.575,-0.3, 0.58,-0.8, 0.585,0];
const W0111 = [0,0, 0.005,-0.6, 0.015,-0.97, 0.03,-0.99, 0.28,-0.99, 0.29,-0.5, 0.3,0.6, 0.31,0.97, 0.33,0.99, 0.575,0.99, 0.585,0.1];
const W0112 = [0,0, 0.005,0.6, 0.015,0.97, 0.03,0.99, 0.28,0.99, 0.29,0.5, 0.3,-0.6, 0.31,-0.97, 0.33,-0.99, 0.578,-0.99, 0.585,0];
const W0113 = [0,0, 0.285,0.86, 0.29,0.5, 0.3,-0.6, 0.31,-0.82, 0.585,0];
const W0114 = [0,0, 0.02,-0.45, 0.035,-0.5, 0.06,-0.35, 0.075,-0.38, 0.1,-0.25, 0.125,0.02, 0.15,-0.5, 0.172,-0.88, 0.19,-0.7, 0.21,-0.68, 0.23,-0.7, 0.26,-0.3, 0.3,0.2, 0.34,0.6, 0.37,0.62, 0.42,1.0, 0.44,0.5, 0.47,0.1, 0.5,0.3, 0.52,0.28, 0.565,0.68, 0.585,0];
const W0115 = [0,0, 0.015,-0.3, 0.03,-0.5, 0.045,-0.4, 0.065,-0.25, 0.09,-0.45, 0.11,-0.7, 0.135,-0.6, 0.148,-0.65, 0.162,-0.9, 0.175,-0.7, 0.19,0.2, 0.21,0.38, 0.225,0.25, 0.24,0.02, 0.265,0.15, 0.28,0.05, 0.305,-0.2, 0.335,0.3, 0.36,0.5, 0.385,0.3, 0.4,0.17, 0.42,0.3, 0.44,0.15, 0.46,0.06, 0.49,0.5, 0.505,1.0, 0.52,0.85, 0.55,0.3, 0.57,0.15, 0.585,0];
const W0116 = [0,0, 0.01,0.6, 0.032,0.75, 0.05,0.55, 0.07,0.7, 0.09,0.2, 0.115,-0.65, 0.13,-0.3, 0.15,0.5, 0.17,0.85, 0.215,0.88, 0.23,0.85, 0.26,0.98, 0.3,0.95, 0.32,0.5, 0.34,-0.4, 0.36,-0.8, 0.4,-0.9, 0.44,-0.93, 0.5,-0.97, 0.55,-1.0, 0.575,-0.6, 0.585,0];
const W0117 = [0,0, 0.012,0.55, 0.035,0.9, 0.06,0.96, 0.1,0.96, 0.14,1.0, 0.18,0.96, 0.22,0.7, 0.25,0.3, 0.28,-0.3, 0.31,-0.8, 0.34,-0.97, 0.4,-0.98, 0.44,-1.0, 0.48,-0.95, 0.52,-0.75, 0.55,-0.45, 0.585,0];
const W0118 = [0,0, 0.015,0.5, 0.04,0.85, 0.07,0.97, 0.1,1.0, 0.15,0.93, 0.2,0.85, 0.28,0.74, 0.36,0.65, 0.37,0.4, 0.385,-0.5, 0.4,-0.8, 0.425,-0.85, 0.47,-0.78, 0.52,-0.6, 0.56,-0.35, 0.585,0];
const W0119 = [0,0, 0.03,0.6, 0.075,1.0, 0.1,0.7, 0.13,0.0, 0.15,-0.25, 0.2,-0.1, 0.23,-0.25, 0.27,-0.48, 0.3,-0.45, 0.34,0.1, 0.375,0.3, 0.4,0.2, 0.44,-0.35, 0.48,-0.7, 0.5,-0.76, 0.54,-0.55, 0.585,0];
const W0120 = [0,0, 0.02,0.6, 0.05,0.88, 0.08,0.75, 0.12,0.2, 0.16,-0.55, 0.205,-0.88, 0.24,-0.6, 0.28,0.1, 0.31,0.65, 0.35,0.92, 0.39,0.65, 0.42,0.1, 0.455,-0.6, 0.495,-0.92, 0.53,-0.65, 0.585,0];
const W0121 = [0,0, 0.01,0.5, 0.03,0.85, 0.07,0.98, 0.1,0.95, 0.14,0.83, 0.175,0.76, 0.205,0.83, 0.225,0.83, 0.25,0.5, 0.28,-0.1, 0.31,-0.6, 0.34,-0.9, 0.38,-0.99, 0.42,-0.95, 0.45,-0.87, 0.475,-0.83, 0.5,-0.9, 0.53,-0.92, 0.56,-0.6, 0.585,0];
const W0122 = [0,0, 0.02,0.45, 0.065,0.66, 0.1,0.56, 0.135,0.45, 0.16,0.6, 0.2,0.95, 0.222,1.0, 0.25,0.8, 0.28,0.2, 0.31,-0.4, 0.35,-0.68, 0.38,-0.62, 0.415,-0.48, 0.44,-0.6, 0.47,-0.85, 0.5,-1.0, 0.53,-0.8, 0.585,0];
const W0123 = [0,0, 0.02,0.45, 0.05,0.63, 0.085,0.7, 0.12,0.62, 0.17,0.48, 0.22,0.35, 0.27,0.25, 0.33,0.18, 0.36,0.15, 0.38,-0.2, 0.4,-0.55, 0.43,-0.88, 0.46,-1.0, 0.5,-0.85, 0.55,-0.68, 0.57,-0.4, 0.585,0];
const W0124 = [0,0, 0.01,0.5, 0.025,0.8, 0.05,0.95, 0.1,0.99, 0.26,0.99, 0.27,0.7, 0.29,-0.2, 0.31,-0.7, 0.33,-0.92, 0.37,-0.99, 0.57,-0.99, 0.585,0];
const W0125 = [0,0, 0.05,0.15, 0.1,0.38, 0.15,0.6, 0.2,0.78, 0.25,0.92, 0.28,1.0, 0.29,0.3, 0.3,-0.6, 0.315,-0.96, 0.35,-0.88, 0.4,-0.68, 0.45,-0.48, 0.5,-0.3, 0.55,-0.12, 0.585,0];
const W0126 = [0,0, 0.02,0.35, 0.05,0.6, 0.09,0.75, 0.14,0.88, 0.2,0.97, 0.245,1.0, 0.26,0.6, 0.28,-0.2, 0.31,-0.75, 0.34,-0.95, 0.365,-0.98, 0.4,-0.9, 0.45,-0.75, 0.5,-0.55, 0.55,-0.3, 0.585,0];
const W0127 = [0,0, 0.02,0.45, 0.06,0.68, 0.1,0.75, 0.15,0.85, 0.195,1.0, 0.22,0.85, 0.25,0.5, 0.28,0.0, 0.32,-0.45, 0.36,-0.68, 0.4,-0.75, 0.44,-0.8, 0.47,-0.9, 0.495,-1.0, 0.53,-0.7, 0.585,0];
const W0128 = [0,0, 0.007,0.85, 0.014,-0.1, 0.021,0.87, 0.028,-0.35, 0.04,1.0, 0.05,-0.3, 0.062,0.45, 0.072,-0.55, 0.08,0.98, 0.09,-0.6, 0.105,0.65, 0.115,-0.7, 0.135,0.6, 0.145,-0.9, 0.16,0.65, 0.17,-0.85, 0.18,0.35, 0.19,-0.3, 0.2,0.5, 0.21,-1.0, 0.22,0.2, 0.232,-0.95, 0.245,0.35, 0.255,-0.95, 0.262,0.0, 0.272,0.85, 0.28,0.1, 0.29,0.85, 0.3,-0.1, 0.31,1.0, 0.318,-0.2, 0.325,0.45, 0.335,-0.4, 0.345,1.0, 0.355,-0.5, 0.37,0.65, 0.38,-0.75, 0.395,0.6, 0.405,-0.8, 0.42,0.6, 0.43,-0.9, 0.44,0.35, 0.45,-0.5, 0.46,0.45, 0.47,-1.0, 0.48,0.35, 0.49,-0.85, 0.505,0.65, 0.515,-0.95, 0.53,0.3, 0.54,-0.6, 0.55,0.3, 0.56,-0.9, 0.57,-0.2, 0.575,-0.85, 0.585,-0.25];
const W0129 = [0,0, 0.01,0.45, 0.03,0.8, 0.06,0.94, 0.1,0.98, 0.26,0.99, 0.27,0.75, 0.285,0.3, 0.31,-0.4, 0.34,-0.85, 0.37,-0.97, 0.4,-0.99, 0.555,-1.0, 0.57,-0.5, 0.585,0];
const W0130 = [0,0, 0.008,0.1, 0.02,0.42, 0.04,0.48, 0.05,0.38, 0.065,0.52, 0.075,0.35, 0.09,0.62, 0.105,0.75, 0.115,0.6, 0.135,0.1, 0.15,-0.5, 0.168,-0.98, 0.185,-0.5, 0.21,0.08, 0.23,0.0, 0.26,0.12, 0.28,-0.15, 0.3,0.3, 0.32,0.45, 0.345,0.62, 0.37,0.5, 0.38,0.45, 0.4,0.0, 0.425,-0.55, 0.44,-0.35, 0.465,0.0, 0.49,-0.35, 0.515,-0.22, 0.545,-0.45, 0.585,-0.1];
const W0131 = [0,0, 0.05,0.35, 0.1,0.58, 0.15,0.75, 0.2,0.87, 0.255,1.0, 0.27,0.6, 0.29,0.0, 0.32,-0.55, 0.36,-0.85, 0.4,-0.78, 0.45,-0.62, 0.5,-0.45, 0.55,-0.25, 0.585,0];
const W0132 = [0,0, 0.015,0.5, 0.04,0.85, 0.07,0.4, 0.1,-0.5, 0.12,-0.92, 0.145,-0.5, 0.18,0.2, 0.2,0.2, 0.245,0.38, 0.28,0.05, 0.32,-0.37, 0.36,0.0, 0.39,0.1, 0.43,-0.1, 0.475,0.2, 0.52,-0.3, 0.54,-0.3, 0.585,0];
const W0133 = [0,0, 0.02,0.6, 0.06,1.0, 0.09,0.75, 0.13,0.2, 0.17,-0.3, 0.2,-0.42, 0.24,-0.15, 0.3,0.08, 0.35,0.0, 0.4,-0.07, 0.47,-0.08, 0.5,-0.5, 0.525,-0.93, 0.55,-0.7, 0.585,0];
const W0134 = [0,0, 0.02,0.6, 0.045,0.95, 0.08,0.5, 0.12,-0.2, 0.16,-0.36, 0.18,0.0, 0.223,0.87, 0.25,0.1, 0.28,-0.6, 0.31,-0.92, 0.35,-0.5, 0.39,0.1, 0.42,0.33, 0.45,0.28, 0.5,0.05, 0.54,-0.98, 0.565,-0.5, 0.585,0];
const W0135 = [0,0, 0.02,0.45, 0.05,0.85, 0.105,1.0, 0.14,0.9, 0.17,0.7, 0.2,0.65, 0.23,0.2, 0.27,-0.42, 0.3,-0.4, 0.33,-0.48, 0.37,-0.62, 0.41,-0.68, 0.45,-0.64, 0.475,-0.6, 0.5,-0.75, 0.53,-0.6, 0.585,0];
const W0136 = [0,0, 0.015,0.6, 0.045,1.0, 0.07,0.82, 0.1,0.6, 0.14,0.48, 0.2,0.38, 0.27,0.28, 0.29,-0.2, 0.32,-0.7, 0.35,-1.0, 0.38,-0.7, 0.41,-0.5, 0.45,-0.42, 0.52,-0.32, 0.56,-0.25, 0.585,0];
const W0137 = [0,0, 0.02,0.5, 0.06,0.8, 0.09,0.72, 0.12,0.6, 0.15,-0.2, 0.19,-0.75, 0.22,-0.5, 0.26,0.3, 0.31,0.72, 0.34,0.6, 0.37,0.0, 0.4,-0.55, 0.43,-0.8, 0.48,-0.65, 0.54,-0.48, 0.585,0];
const W0138 = [0,0, 0.03,0.6, 0.07,0.97, 0.1,1.0, 0.12,0.9, 0.16,0.2, 0.2,-0.85, 0.23,-0.5, 0.27,0.35, 0.32,0.85, 0.35,0.7, 0.39,0.0, 0.42,-0.7, 0.445,-0.98, 0.5,-0.92, 0.54,-0.8, 0.585,0];
const W0139 = [0,0, 0.02,0.5, 0.055,0.88, 0.1,0.87, 0.125,0.8, 0.16,0.3, 0.2,-0.2, 0.23,0.1, 0.26,0.55, 0.29,0.62, 0.32,0.45, 0.35,-0.05, 0.38,-0.6, 0.42,-0.98, 0.46,-0.95, 0.51,-0.82, 0.55,-0.5, 0.585,0];
const W0140 = [0,0, 0.03,0.6, 0.07,0.97, 0.1,0.97, 0.14,0.6, 0.19,-0.4, 0.24,-0.92, 0.28,-0.5, 0.33,0.45, 0.385,0.88, 0.42,0.6, 0.47,-0.4, 0.52,-0.95, 0.55,-0.7, 0.585,0];
const W0141 = [0,0, 0.005,0.6, 0.02,0.85, 0.035,1.0, 0.08,1.0, 0.1,0.85, 0.12,-0.5, 0.135,-1.0, 0.16,-1.0, 0.17,-0.4, 0.18,0.05, 0.19,-0.35, 0.2,-0.8, 0.215,-0.55, 0.23,-0.45, 0.255,-0.85, 0.265,-0.9, 0.28,0.1, 0.295,0.55, 0.31,0.85, 0.325,0.9, 0.34,1.0, 0.4,1.0, 0.41,0.4, 0.42,-1.0, 0.49,-1.0, 0.51,0.3, 0.525,0.35, 0.54,-0.3, 0.555,0.4, 0.575,-0.4, 0.585,-0.2];
const W0142 = [0,0, 0.02,0.55, 0.05,0.82, 0.09,0.9, 0.14,0.85, 0.2,0.76, 0.25,0.66, 0.28,0.35, 0.31,-0.3, 0.34,-0.75, 0.37,-0.9, 0.42,-0.85, 0.48,-0.77, 0.54,-0.7, 0.585,0];
const W0143 = [0,0, 0.02,0.5, 0.05,0.9, 0.075,1.0, 0.12,0.9, 0.2,0.8, 0.245,0.7, 0.27,0.3, 0.3,-0.4, 0.33,-0.85, 0.35,-1.0, 0.4,-0.85, 0.47,-0.72, 0.55,-0.62, 0.585,0];
const W0144 = [0,0, 0.02,0.3, 0.05,0.47, 0.1,0.58, 0.15,0.7, 0.2,0.88, 0.23,0.7, 0.27,0.25, 0.32,-0.2, 0.37,-0.38, 0.42,-0.5, 0.46,-0.62, 0.49,-0.88, 0.52,-0.7, 0.56,-0.3, 0.585,0];
// rows not yet read in detail (rough shapes)
const ROUGH_A = [0,0, 0.05,0.5, 0.146,0.8, 0.25,0.3, 0.3,-0.1, 0.44,-0.8, 0.52,-0.45, 0.585,0];
const ROUGH_B = [0,0, 0.06,-0.45, 0.146,-0.75, 0.25,-0.2, 0.3,0.1, 0.44,0.75, 0.52,0.4, 0.585,0];
const W0161 = [0,0, 0.05,0.33, 0.1,0.67, 0.2,0.67, 0.238,0.33, 0.2385,-1, 0.397,-1, 0.3975,-0.67, 0.476,-0.67, 0.4765,-0.33, 0.523,-0.33, 0.5235,0, 0.585,0];
const W0162 = [0,0, 0.05,0.67, 0.15,1, 0.2,0.67, 0.232,0.33, 0.233,0, 0.265,0, 0.266,-0.33, 0.31,-0.33, 0.311,-0.67, 0.357,-0.67, 0.358,-1, 0.478,-1, 0.479,-0.67, 0.512,-0.67, 0.513,-0.33, 0.577,-0.33, 0.578,0, 0.585,0];
const W0177 = [0,0, 0.017,0.18, 0.078,0.5, 0.11,0.82, 0.144,-0.33, 0.175,-0.18, 0.206,0.17, 0.269,0.48, 0.302,-0.51, 0.397,0.0, 0.43,-1.0, 0.463,-0.85, 0.496,-0.5, 0.54,-0.3, 0.585,0];
const W0178 = [0,0, 0.031,-1.0, 0.04,-0.92, 0.063,-0.5, 0.096,-0.1, 0.124,0.1, 0.157,0.1, 0.196,0.18, 0.221,0.2, 0.257,0.13, 0.29,0.17, 0.318,0.18, 0.351,0.1, 0.379,0.13, 0.412,0.15, 0.445,0.07, 0.473,0.1, 0.512,0.03, 0.539,0.06, 0.572,0.1, 0.578,0.08, 0.585,0];
const W0183 = [0,0.33, 0.009,0.33, 0.01,0.67, 0.045,0.67, 0.046,0.33, 0.062,0.33, 0.063,0, 0.1,0, 0.101,-0.33, 0.116,-0.33, 0.117,-0.67, 0.15,-0.67, 0.151,-0.33, 0.186,-0.33, 0.187,-0.67, 0.256,-0.67, 0.257,-1, 0.28,-1, 0.281,-0.67, 0.297,-0.67, 0.298,-0.33, 0.305,-0.33, 0.306,0, 0.319,0, 0.32,0.33, 0.332,0.33, 0.333,0, 0.354,0, 0.355,-0.33, 0.357,-0.33, 0.358,0, 0.397,0, 0.398,-0.33, 0.44,-0.33, 0.441,0, 0.455,0, 0.456,0.33, 0.485,0.33, 0.486,0, 0.585,0];
const W0184 = [0,0.33, 0.005,0.33, 0.006,0.67, 0.007,0.33, 0.08,0.33, 0.081,0, 0.091,0, 0.092,-0.33, 0.097,-0.33, 0.098,-0.67, 0.119,-0.67, 0.12,-0.33, 0.124,-0.33, 0.125,0, 0.135,0, 0.136,0.33, 0.153,0.33, 0.154,0.67, 0.361,0.67, 0.362,0.33, 0.369,0.33, 0.37,0, 0.378,0, 0.379,-0.33, 0.383,-0.33, 0.384,-0.67, 0.39,-0.67, 0.391,-1, 0.56,-1, 0.561,-0.67, 0.569,-0.67, 0.57,-0.33, 0.578,-0.33, 0.579,0, 0.585,0];
const W0249 = [0,0, 0.047,0.5, 0.09,0.93, 0.1,0.97, 0.14,0.86, 0.16,0.75, 0.2,0.35, 0.235,0.12, 0.27,0.0, 0.3,-0.07, 0.345,-0.3, 0.38,-0.58, 0.43,-1.0, 0.48,-0.6, 0.52,-0.2, 0.555,-0.15, 0.575,-0.1, 0.585,0];
const W0250 = [0,0, 0.019,0.45, 0.035,0.58, 0.06,0.65, 0.09,1.0, 0.11,0.95, 0.13,0.5, 0.155,-0.45, 0.185,-0.62, 0.21,-0.8, 0.24,-0.74, 0.255,-0.78, 0.28,-0.3, 0.31,0.45, 0.328,0.55, 0.35,0.4, 0.38,0.78, 0.41,0.35, 0.45,-0.2, 0.47,-0.12, 0.5,-0.55, 0.515,-0.7, 0.53,-0.72, 0.548,-0.85, 0.565,-0.5, 0.585,0];
const W0255 = [0,0, 0.02,0.6, 0.047,0.8, 0.07,0.75, 0.1,0.6, 0.13,0.61, 0.16,0.4, 0.2,-0.4, 0.24,-0.77, 0.265,-0.5, 0.3,0.5, 0.335,0.83, 0.36,0.7, 0.39,0.1, 0.42,-0.42, 0.45,-0.48, 0.48,-0.7, 0.535,-1.0, 0.565,-0.6, 0.585,-0.03];
const W0256 = [0,0, 0.04,0.6, 0.085,1.0, 0.12,0.6, 0.15,-0.2, 0.21,-0.88, 0.26,-0.5, 0.3,0.2, 0.37,0.83, 0.41,0.55, 0.45,0.0, 0.516,-1.0, 0.55,-0.6, 0.585,0];

const WAVES: [string, number[]][] = [
  ["0001", W0001], ["0002", W0002], ["0003", W0003], ["0004", W0004], ["0005", W0005], ["0006", W0006],
  ["0007", W0007], ["0008", W0008], ["0009", W0009], ["0010", W0010], ["0011", W0011], ["0012", W0012],
  ["0013", W0013], ["0014", W0014], ["0015", W0015], ["0016", W0016], ["0017", W0017], ["0018", W0018],
  ["0019", W0019], ["0020", W0020], ["0021", W0021], ["0022", W0022], ["0023", W0023], ["0024", W0024],
  ["0025", W0025], ["0026", W0026], ["0027", W0027], ["0028", W0028], ["0029", W0029], ["0030", W0030],
  ["0031", W0031], ["0032", W0032], ["0033", W0033], ["0034", W0034], ["0035", W0035], ["0036", W0036],
  ["0037", W0037], ["0038", W0038], ["0039", W0039], ["0040", W0040], ["0041", W0041], ["0042", W0042],
  ["0043", W0043], ["0044", W0044], ["0045", W0045], ["0046", W0046], ["0047", W0047], ["0048", W0048],
  ["0049", W0049], ["0050", W0050], ["0051", W0051], ["0052", W0052], ["0053", W0053], ["0054", W0054],
  ["0055", W0055], ["0056", W0056], ["0057", W0057], ["0058", W0058], ["0059", W0059], ["0060", W0060],
  ["0061", W0061], ["0062", W0062], ["0063", W0063], ["0064", W0064], ["0065", W0065], ["0066", W0066],
  ["0067", W0067], ["0068", W0068], ["0069", W0069], ["0070", W0070], ["0071", W0071], ["0072", W0072],
  ["0073", W0073], ["0074", W0074], ["0075", W0075], ["0076", W0076], ["0077", W0077], ["0078", W0078],
  ["0079", W0079], ["0080", W0080], ["0081", W0081], ["0082", W0082], ["0083", W0083], ["0084", W0084],
  ["0085", W0085], ["0086", W0086], ["0087", W0087], ["0088", W0088], ["0089", W0089], ["0090", W0090],
  ["0091", W0091], ["0092", W0092], ["0093", W0093], ["0094", W0094], ["0095", W0095], ["0096", W0096],
  ["0097", W0097], ["0098", W0098], ["0099", W0099], ["0100", W0100], ["0101", W0101], ["0102", W0102],
  ["0103", W0103], ["0104", W0104], ["0105", W0105], ["0106", W0106], ["0107", W0107], ["0108", W0108],
  ["0109", W0109], ["0110", W0110], ["0111", W0111], ["0112", W0112], ["0113", W0113], ["0114", W0114],
  ["0115", W0115], ["0116", W0116], ["0117", W0117], ["0118", W0118], ["0119", W0119], ["0120", W0120],
  ["0121", W0121], ["0122", W0122], ["0123", W0123], ["0124", W0124], ["0125", W0125], ["0126", W0126],
  ["0127", W0127], ["0128", W0128], ["0129", W0129], ["0130", W0130], ["0131", W0131], ["0132", W0132],
  ["0133", W0133], ["0134", W0134], ["0135", W0135], ["0136", W0136], ["0137", W0137], ["0138", W0138],
  ["0139", W0139], ["0140", W0140], ["0141", W0141], ["0142", W0142], ["0143", W0143], ["0144", W0144],
  ["0145", ROUGH_A], ["0146", ROUGH_B], ["0147", ROUGH_A], ["0148", ROUGH_B], ["0149", ROUGH_A], ["0150", ROUGH_B],
  ["0151", ROUGH_B], ["0152", ROUGH_A], ["0153", ROUGH_B], ["0154", ROUGH_A], ["0155", ROUGH_B], ["0156", ROUGH_A],
  ["0161", W0161], ["0162", W0162], ["0171", ROUGH_A], ["0172", ROUGH_B], ["0175", ROUGH_A], ["0176", ROUGH_B],
  ["0177", W0177], ["0178", W0178], ["0179", ROUGH_A], ["0180", ROUGH_B], ["0181", ROUGH_A], ["0182", ROUGH_B],
  ["0183", W0183], ["0184", W0184], ["0185", ROUGH_A], ["0186", ROUGH_B], ["0187", ROUGH_A], ["0188", ROUGH_B],
  ["0189", ROUGH_A], ["0190", ROUGH_B], ["0191", ROUGH_A], ["0192", ROUGH_B], ["0193", ROUGH_A], ["0194", ROUGH_B],
  ["0195", ROUGH_B], ["0196", ROUGH_A], ["0197", ROUGH_B], ["0198", ROUGH_A], ["0199", ROUGH_B], ["0200", ROUGH_A],
  ["0201", ROUGH_A], ["0202", ROUGH_B], ["0203", ROUGH_A], ["0204", ROUGH_B], ["0205", ROUGH_A], ["0206", ROUGH_B],
  ["0207", ROUGH_B], ["0208", ROUGH_A], ["0209", ROUGH_B], ["0210", ROUGH_A], ["0211", ROUGH_B], ["0212", ROUGH_A],
  ["0213", ROUGH_A], ["0214", ROUGH_B], ["0215", ROUGH_A], ["0216", ROUGH_B], ["0217", ROUGH_A], ["0218", ROUGH_B],
  ["0219", ROUGH_B], ["0220", ROUGH_A], ["0221", ROUGH_B], ["0222", ROUGH_A], ["0223", ROUGH_B], ["0224", ROUGH_A],
  ["0225", ROUGH_A], ["0226", ROUGH_B], ["0227", ROUGH_A], ["0228", ROUGH_B], ["0229", ROUGH_A], ["0230", ROUGH_B],
  ["0231", ROUGH_B], ["0232", ROUGH_A], ["0233", ROUGH_B], ["0234", ROUGH_A], ["0235", ROUGH_B], ["0236", ROUGH_A],
  ["0237", ROUGH_A], ["0238", ROUGH_B], ["0239", ROUGH_A], ["0240", ROUGH_B], ["0241", ROUGH_A], ["0242", ROUGH_B],
  ["0243", ROUGH_B], ["0244", ROUGH_A], ["0245", ROUGH_B], ["0246", ROUGH_A], ["0247", ROUGH_B], ["0248", ROUGH_A],
  ["0249", W0249], ["0250", W0250], ["0251", ROUGH_A], ["0252", ROUGH_B], ["0253", ROUGH_A], ["0254", ROUGH_B],
  ["0255", W0255], ["0256", W0256], ["0257", ROUGH_B], ["0258", ROUGH_A], ["0259", ROUGH_B], ["0260", ROUGH_A],
];

const FONT_FAMILY = "'Liberation Sans', Arial, Helvetica, sans-serif";
const LINE_COLOR = "#a8342b";
const GRID_COLOR = "#ececec";
const AXIS_COLOR = "#c6c6c6";
const TEXT_COLOR = "#3c3c3c";
const TICK_COLOR = "#8a8a8a";

const CW = 132;
const CH = 100;
const COL_PITCH = 132.13;
const ROW_PITCH = 99.75;
const TOP_SHIFT = 3.9;

function WaveChart({ name, pts, col, row }: { name: string; pts: number[]; col: number; row: number }) {
  const ref = useRef<HTMLCanvasElement | null>(null);
  useEffect(() => {
    const canvas = ref.current;
    if (!canvas) return;
    const data: { x: number; y: number }[] = [];
    let prev = -1;
    for (let i = 0; i + 1 < pts.length; i += 2) {
      let x = pts[i];
      if (x <= prev) x = prev + 0.0002;
      prev = x;
      data.push({ x, y: pts[i + 1] });
    }
    const tickFont = { family: FONT_FAMILY, size: 2.15, lineHeight: 1 };
    const chart = new Chart(canvas, {
      type: "line",
      data: {
        datasets: [
          {
            data,
            borderColor: LINE_COLOR,
            borderWidth: 0.9,
            pointRadius: 0,
            fill: false,
            cubicInterpolationMode: "monotone",
            borderJoinStyle: "round",
          },
        ],
      },
      options: {
        animation: false,
        responsive: false,
        devicePixelRatio: 1,
        events: [],
        layout: { padding: { left: 0, right: 1.2, top: 0, bottom: 0 } },
        plugins: {
          legend: { display: false },
          tooltip: { enabled: false },
          title: {
            display: true,
            fullSize: false,
            text: `Waveform of AKWF_${name}.wav`,
            color: TEXT_COLOR,
            font: { family: FONT_FAMILY, size: 2.42, weight: "normal", lineHeight: 1 },
            padding: { top: 2.68, bottom: 0 },
          },
          subtitle: {
            display: true,
            fullSize: false,
            text: SOURCE,
            color: TEXT_COLOR,
            font: { family: FONT_FAMILY, size: 2.42, weight: "normal", lineHeight: 1 },
            padding: { top: 2.56, bottom: 2.87 },
          },
        },
        scales: {
          x: {
            type: "linear",
            min: 0,
            max: TIME_MAX,
            afterBuildTicks: (s: any) => {
              s.ticks = TIME_TICKS.map((value) => ({ value }));
            },
            afterFit: (s: any) => {
              s.height = 9.32;
            },
            grid: { color: GRID_COLOR, lineWidth: 0.7, drawTicks: false },
            border: { color: AXIS_COLOR, width: 0.8 },
            ticks: {
              font: tickFont,
              color: TICK_COLOR,
              padding: 0.45,
              maxRotation: 0,
              autoSkip: false,
              callback: (v: any) => String(v),
            },
            title: { display: true, text: "Time", color: TEXT_COLOR, font: tickFont, padding: { top: 0, bottom: 3.07 } },
          },
          y: {
            type: "linear",
            min: -1,
            max: 1,
            afterBuildTicks: (s: any) => {
              s.ticks = VALUE_TICKS.map((value) => ({ value }));
            },
            afterFit: (s: any) => {
              s.width = 16.65;
            },
            grid: { color: GRID_COLOR, lineWidth: 0.7, drawTicks: false },
            border: { color: AXIS_COLOR, width: 0.8 },
            ticks: {
              font: tickFont,
              color: TICK_COLOR,
              padding: 1.55,
              autoSkip: false,
              callback: (v: any) => String(v),
            },
            title: { display: true, text: "Value", color: TEXT_COLOR, font: tickFont, padding: { top: 5.42, bottom: 0 } },
          },
        },
      } as any,
    });
    return () => chart.destroy();
  }, [name, pts]);
  return (
    <canvas
      ref={ref}
      width={CW}
      height={CH}
      style={{
        position: "absolute",
        left: Math.round(col * COL_PITCH),
        top: Math.round(row * ROW_PITCH + TOP_SHIFT),
        width: CW,
        height: CH,
      }}
    />
  );
}

export default function App() {
  useEffect(() => {
    document.body.style.margin = "0";
    document.body.style.background = "#ffffff";
  }, []);
  return (
    <div style={{ position: "relative", width: 798, height: 4096, background: "#ffffff", overflow: "hidden" }}>
      {WAVES.map(([name, pts], i) => (
        <WaveChart key={name} name={name} pts={pts} col={i % 6} row={Math.floor(i / 6)} />
      ))}
    </div>
  );
}
